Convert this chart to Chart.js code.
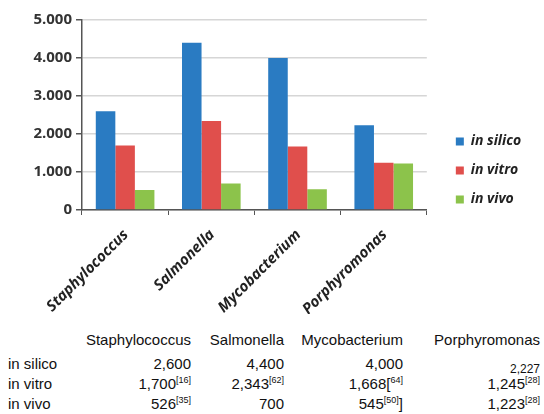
<!DOCTYPE html>
<html>
<head>
<meta charset="utf-8">
<script src="https://cdn.jsdelivr.net/npm/chart.js@4"></script>
<style>
    body { margin: 0; background: #fff; width: 544px; height: 414px; overflow: hidden; position: relative; }
    #wrap { position: absolute; left: 0; top: 0; width: 544px; height: 314px; }
    #data-table {
        position: absolute; left: 8px; top: 330px;
        border-collapse: collapse; table-layout: fixed;
        font-family: "Liberation Sans", Arial, sans-serif; font-size: 15px; color: #111;
    }
    #data-table td { padding: 0; height: 20px; line-height: 20px; text-align: right; white-space: nowrap; }
    #data-table tr:first-child td { height: 23px; vertical-align: top; }
    #data-table td:first-child { text-align: left; }
    #data-table sup { font-size: 9px; line-height: 0; vertical-align: 6px; }
    #data-table .small { font-size: 12px; position: relative; top: 5px; }
</style>
</head>
<body>
<div id="wrap"><canvas id="BarChart" width="544" height="314"></canvas></div>
<table id="data-table">
    <colgroup>
        <col style="width:72px"><col style="width:111px"><col style="width:93px"><col style="width:119px"><col style="width:137px">
    </colgroup>
    <tbody></tbody>
</table>
<script>
// ---------------- Data ----------------
const categories = ["Staphylococcus", "Salmonella", "Mycobacterium", "Porphyromonas"];
const seriesNames = ["in silico", "in vitro", "in vivo"];
const inSilico = [2600, 4400, 4000, 2227];
const inVitro = [1700, 2343, 1668, 1245];
const inVivo = [526, 700, 545, 1223];
const yTicks = [0, 1000, 2000, 3000, 4000, 5000];

// reference marks shown in the table, as printed
const vitroRefs = ["[16]", "[62]", "64]", "[28]"];
const vitroPre = ["", "", "[", ""];
const vivoRefs = ["[35]", "", "[50]", "[28]"];
const vivoPost = ["", "", "]", ""];

const colors = ["#2a7bc2", "#e04f4c", "#8cc34b"];
const chartFont = "Open Sans";

// ---------------- Table ----------------
function fmt(v) {
    return v.toLocaleString("en-US");
}

function buildTable() {
    const body = document.querySelector("#data-table tbody");
    let html = "<tr><td></td>" + categories.map(c => `<td>${c}</td>`).join("") + "</tr>";

    html += "<tr><td>in silico</td>" + inSilico.map((v, i) =>
        i === 3 ? `<td><span class="small">${fmt(v)}</span></td>` : `<td>${fmt(v)}</td>`
    ).join("") + "</tr>";

    html += "<tr><td>in vitro</td>" + inVitro.map((v, i) =>
        `<td>${fmt(v)}${vitroPre[i]}<sup>${vitroRefs[i]}</sup></td>`
    ).join("") + "</tr>";

    html += "<tr><td>in vivo</td>" + inVivo.map((v, i) =>
        `<td>${fmt(v)}${vivoRefs[i] ? "<sup>" + vivoRefs[i] + "</sup>" : ""}${vivoPost[i]}</td>`
    ).join("") + "</tr>";

    body.innerHTML = html;
}

// ---------------- Chart ----------------
function buildChart() {
    const ctx = document.getElementById("BarChart").getContext("2d");
    const values = [inSilico, inVitro, inVivo];

    const datasets = seriesNames.map((name, i) => ({
        label: name,
        data: values[i],
        backgroundColor: colors[i],
        borderWidth: 0,
        categoryPercentage: 0.68,
        barPercentage: 1
    }));

    new Chart(ctx, {
        type: "bar",
        data: { labels: categories, datasets: datasets },
        options: {
            responsive: false,
            animation: false,
            layout: { padding: { left: 0, right: 15, top: 20, bottom: 0 } },
            scales: {
                x: {
                    afterFit: axis => { axis.height = 104; },
                    grid: { display: true, drawOnChartArea: false, offset: true, color: "#555", tickLength: 5 },
                    border: { color: "#555", width: 1.5 },
                    ticks: {
                        minRotation: 45, maxRotation: 45, padding: 11, labelOffset: 1,
                        color: "#222",
                        font: { family: chartFont, size: 15, weight: "bold", style: "italic" }
                    }
                },
                y: {
                    min: 0, max: 5000,
                    afterFit: axis => { axis.width = 82; },
                    afterBuildTicks: axis => { axis.ticks = yTicks.map(v => ({ value: v })); },
                    grid: { color: "#d6d6d6", lineWidth: 1.5, tickLength: 6, tickColor: "#555" },
                    border: { color: "#555", width: 1.5 },
                    ticks: {
                        padding: 4,
                        color: "#333",
                        font: { family: chartFont, size: 15, weight: "bold" },
                        callback: v => v.toLocaleString("en-US").replace(/,/g, ".")
                    }
                },
                // empty spacer between the plot and the legend
                gap: {
                    position: "right",
                    display: true,
                    afterFit: axis => { axis.width = 14; },
                    grid: { display: false },
                    border: { display: false },
                    ticks: { display: false }
                }
            },
            plugins: {
                legend: {
                    position: "right",
                    align: "start",
                    title: { display: true, text: "", font: { size: 12 }, padding: { top: 85, bottom: 0 } },
                    labels: {
                        boxWidth: 8, boxHeight: 8, padding: 15,
                        color: "#222",
                        font: { family: chartFont, size: 14, weight: "bold", style: "italic" }
                    }
                },
                tooltip: { enabled: false }
            }
        }
    });
}

document.addEventListener("DOMContentLoaded", () => {
    buildTable();
    buildChart();
});
</script>
</body>
</html>
